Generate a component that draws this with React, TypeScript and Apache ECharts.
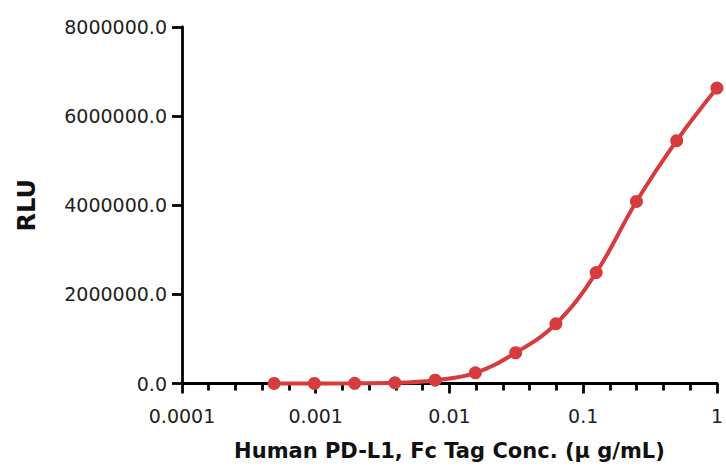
import React, { useEffect, useRef } from "react";
import * as echarts from "echarts";

const concentrations = [
  0.00048828125, 0.0009765625, 0.001953125, 0.00390625, 0.0078125, 0.015625,
  0.03125, 0.0625, 0.125, 0.25, 0.5, 1,
];
const rluValues = [
  2000, 2000, 5000, 15000, 74000, 240000, 690000, 1340000, 2490000, 4085000,
  5450000, 6630000,
];
const xTickLabels = ["0.0001", "0.001", "0.01", "0.1", "1"];
const xAxisTitle = "Human PD-L1, Fc Tag Conc. (\u03bc g/mL)";
const yAxisTitle = "RLU";

export default function App() {
  const ref = useRef<HTMLDivElement>(null);
  useEffect(() => {
    if (!ref.current) return;
    const chart = echarts.init(ref.current, undefined, { renderer: "svg" });
    const red = "#d63b3d";
    const font = "DejaVu Sans";
    chart.setOption({
      animation: false,
      grid: { left: 182, right: 8, top: 27, bottom: 86.5, containLabel: false },
      xAxis: {
        type: "value",
        min: -4,
        max: 0,
        interval: 1,
        name: xAxisTitle,
        nameLocation: "middle",
        nameGap: 57,
        nameTextStyle: { fontFamily: font, fontWeight: "bold", fontSize: 21, color: "#111" },
        axisLine: { show: true, onZero: false, lineStyle: { color: "#000", width: 2.8 } },
        axisTick: { show: true, inside: false, length: 10, lineStyle: { color: "#000", width: 2.8 } },
        minorTick: { show: true, splitNumber: 5, length: 7, lineStyle: { color: "#000", width: 2.8 } },
        splitLine: { show: false },
        minorSplitLine: { show: false },
        axisLabel: {
          margin: 23,
          fontFamily: font,
          fontSize: 19,
          color: "#222",
          formatter: (v: number) => xTickLabels[Math.round(v) + 4] ?? "",
        },
      },
      yAxis: {
        type: "value",
        min: 0,
        max: 8000000,
        interval: 2000000,
        name: yAxisTitle,
        nameLocation: "middle",
        nameRotate: 90,
        nameGap: 143,
        nameTextStyle: { fontFamily: font, fontWeight: "bold", fontSize: 24, color: "#111" },
        axisLine: { show: true, onZero: false, lineStyle: { color: "#000", width: 2.8 } },
        axisTick: { show: true, inside: false, length: 10, lineStyle: { color: "#000", width: 2.8 } },
        splitLine: { show: false },
        axisLabel: {
          margin: 15,
          fontFamily: font,
          fontSize: 19,
          color: "#222",
          formatter: (v: number) => v.toFixed(1),
        },
      },
      series: [
        {
          type: "line",
          data: concentrations.map((c, i) => [Math.log10(c), rluValues[i]]),
          smooth: 0.4,
          clip: false,
          symbol: "circle",
          symbolSize: 13,
          itemStyle: { color: red },
          lineStyle: { color: red, width: 4 },
        },
      ],
    });
    return () => chart.dispose();
  }, []);
  return (
    <div
      ref={ref}
      style={{ position: "absolute", left: 0, top: 0, width: 726, height: 470, background: "#fff" }}
    />
  );
}
